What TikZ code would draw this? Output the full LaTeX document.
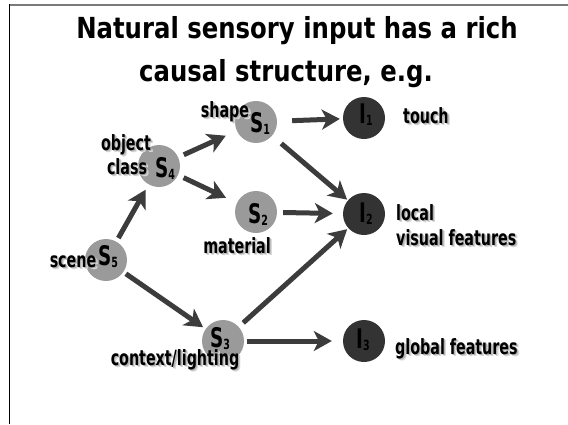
\documentclass[tikz,border=0pt]{standalone}
\usepackage{fontspec}
\usetikzlibrary{arrows.meta}
\newfontfamily\hand[FakeStretch=0.68]{DejaVu Sans}
\newfontfamily\headfont[FakeStretch=0.84]{DejaVu Sans}
\definecolor{sgray}{HTML}{9A9A9A}
\definecolor{idark}{HTML}{333333}
\definecolor{arrowc}{HTML}{3C3C3C}
\definecolor{framegray}{HTML}{7A7A7A}
% text with a soft drop shadow
\newcommand\shd[1]{\makebox[0pt][l]{\kern2.4pt\raisebox{-2.8pt}{\textcolor{black!15}{#1}}}\makebox[0pt][l]{\kern1.3pt\raisebox{-1.5pt}{\textcolor{black!30}{#1}}}#1}
% small index below a variable letter
\newcommand\idx[1]{\raisebox{-2pt}{\fontsize{14}{14}\selectfont #1}}
\tikzset{
  snode/.style={circle, fill=sgray, minimum size=42pt, inner sep=0pt},
  inode/.style={circle, fill=idark, minimum size=42pt, inner sep=0pt},
  lbl/.style={font=\hand\bfseries\fontsize{21}{21}\selectfont, inner sep=0pt, anchor=base},
  lblw/.style={lbl, anchor=base west},
  sym/.style={font=\hand\bfseries\fontsize{27}{27}\selectfont, inner sep=0pt, anchor=base west},
  ttl/.style={font=\headfont\bfseries\fontsize{29}{29}\selectfont, inner sep=0pt, anchor=base},
  causal/.style={draw=arrowc, line width=5pt, -{Stealth[length=18pt,width=20pt,inset=5pt]}},
}
\begin{document}
\begin{tikzpicture}[x=1pt,y=-1pt]
\useasboundingbox (0,0) rectangle (568,424);
\fill[white] (0,0) rectangle (568,424);
% slide frame
\draw[framegray, line width=2pt] (9,4.5) -- (568,4.5);
\draw[black, line width=1.6pt] (9.5,4) -- (9.5,424);

% title
\node[ttl] (t1) at (297,38) {Natural sensory input has a rich};
\node[ttl] (t2) at (286,81) {causal structure, e.g.};

% latent causes and sensory inputs
\node[snode] (s1) at (256,122) {};
\node[snode] (s2) at (256,212) {};
\node[snode] (s3) at (223,341) {};
\node[snode] (s4) at (159,166) {};
\node[snode] (s5) at (106,260) {};
\node[inode] (i1) at (364,118) {};
\node[inode] (i2) at (364,214) {};
\node[inode] (i3) at (364,341) {};

% variable names
\node[sym] (n1) at (250,132) {S\idx{1}};
\node[sym] (n2) at (248,223) {S\idx{2}};
\node[sym] (n3) at (210,347) {S\idx{3}};
\node[sym] (n4) at (155,177) {S\idx{4}};
\node[sym] (n5) at (98,265) {S\idx{5}};
\node[sym] (m1) at (359,123) {I\idx{1}};
\node[sym] (m2) at (359,222) {I\idx{2}};
\node[sym] (m3) at (356,348) {I\idx{3}};

% descriptions
\node[lbl] (lshape) at (225,117) {\shd{shape}};
\node[lbl] (lobj) at (126,150) {\shd{object}};
\node[lbl] (lclass) at (127,174) {\shd{class}};
\node[lbl] (lmat) at (237,253) {\shd{material}};
\node[lbl] (lscene) at (73,267) {\shd{scene}};
\node[lbl] (lctx) at (175,365) {\shd{context/lighting}};
\node[lblw] (ltouch) at (403,123) {\shd{touch}};
\node[lblw] (llocal) at (396,220) {\shd{local}};
\node[lblw] (lvis) at (396,245) {\shd{visual features}};
\node[lblw] (lglob) at (395,354) {\shd{global features}};

% causal links
\draw[causal, shorten <=4pt, shorten >=6pt] (s5) -- (s4);
\draw[causal, shorten <=3pt, shorten >=3pt] (s5) -- (s3);
\draw[causal, shorten <=6pt, shorten >=12pt] (s4) -- (s1);
\draw[causal, shorten <=6pt, shorten >=12pt] (s4) -- (s2);
\draw[causal, shorten <=15pt, shorten >=3pt] (s1) -- (i1);
\draw[causal, shorten <=12pt, shorten >=1pt] (s1) -- (i2);
\draw[causal, shorten <=6pt, shorten >=10pt] (s2) -- (i2);
\draw[causal, shorten <=6pt, shorten >=1.5pt] (s3) -- (i2);
\draw[causal, shorten <=3pt, shorten >=11pt] (s3) -- (i3);
\end{tikzpicture}
\end{document}
